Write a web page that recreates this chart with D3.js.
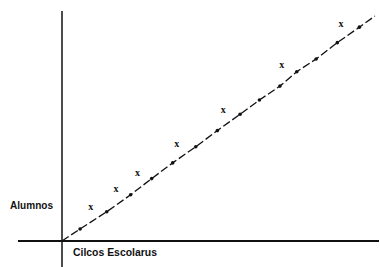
<!DOCTYPE html>
<html>
<head>
<meta charset="utf-8">
<script src="https://cdn.jsdelivr.net/npm/d3@7"></script>
<style>
    body { margin: 0; background: #fff; }
    svg { display: block; }
</style>
</head>
<body>
<div id="chart"></div>
<script>
// ciclos escolares (x) vs alumnos (y)
const lineX = [0, 0.86, 2.13, 3.27, 4.27, 5.27, 6.37, 7.40, 8.48, 9.40, 10.38, 11.18, 12.10, 13.11, 14.16, 14.90];
const lineY = [0, 0.55, 1.34, 2.12, 2.86, 3.58, 4.32, 5.06, 5.81, 6.46, 7.10, 7.76, 8.34, 9.09, 9.80, 10.31];

// observed points (the "x" marks)
const obsX = [1.37, 2.57, 3.59, 5.46, 7.68, 10.46, 13.29];
const obsY = [1.60, 2.41, 3.13, 4.45, 6.04, 8.07, 9.98];

const yLabel = 'Alumnos';
const xLabel = 'Cilcos Escolarus';

const _W = 380, _H = 267;
const _ORIGIN = { x: 62, y: 241 };

let svg = d3.select('#chart').append('svg')
    .attr('width', _W)
    .attr('height', _H);

let xScale = d3.scaleLinear()
    .domain([0, 15])
    .range([_ORIGIN.x, _ORIGIN.x + 15 * 21]);
let yScale = d3.scaleLinear()
    .domain([0, 11])
    .range([_ORIGIN.y, _ORIGIN.y - 11 * 21.82]);

// axes, drawn as plain lines through the origin (no ticks in the original)
let axes = svg.append('g').attr('class', 'axes');
axes.append('line')
    .attr('x1', 18).attr('x2', 379)
    .attr('y1', yScale(0)).attr('y2', yScale(0))
    .attr('stroke', '#111')
    .attr('stroke-width', 2);
axes.append('line')
    .attr('x1', xScale(0)).attr('x2', xScale(0))
    .attr('y1', 11).attr('y2', _H)
    .attr('stroke', '#111')
    .attr('stroke-width', 1.5);

let lineData = lineX.map((x, i) => ({ x: x, y: lineY[i] }));
let pointData = lineData.slice(1, lineData.length - 1);

let line = d3.line()
    .x(d => xScale(d.x))
    .y(d => yScale(d.y));

svg.append('path')
    .datum(lineData)
    .attr('d', line)
    .attr('fill', 'none')
    .attr('stroke', '#111')
    .attr('stroke-width', 1.3)
    .attr('stroke-dasharray', '8,3');

svg.append('g').selectAll('circle')
    .data(pointData)
    .enter().append('circle')
    .attr('cx', d => xScale(d.x))
    .attr('cy', d => yScale(d.y))
    .attr('r', 1.8)
    .attr('fill', '#111');

svg.append('g').selectAll('text')
    .data(obsX.map((x, i) => ({ x: x, y: obsY[i] })))
    .enter().append('text')
    .attr('x', d => xScale(d.x))
    .attr('y', d => yScale(d.y))
    .attr('dy', '0.35em')
    .attr('text-anchor', 'middle')
    .attr('font-family', 'Liberation Serif, serif')
    .attr('font-weight', 'bold')
    .attr('font-size', 10)
    .attr('fill', '#111')
    .text('x');

svg.append('text')
    .attr('x', 10)
    .attr('y', 209)
    .attr('font-family', 'Liberation Sans, Arial, sans-serif')
    .attr('font-weight', 'bold')
    .attr('font-size', 10)
    .attr('textLength', 43)
    .attr('lengthAdjust', 'spacingAndGlyphs')
    .attr('fill', '#111')
    .text(yLabel);

svg.append('text')
    .attr('x', 73)
    .attr('y', 256)
    .attr('font-family', 'Liberation Sans, Arial, sans-serif')
    .attr('font-weight', 'bold')
    .attr('font-size', 10.5)
    .attr('textLength', 84)
    .attr('lengthAdjust', 'spacingAndGlyphs')
    .attr('fill', '#111')
    .text(xLabel);
</script>
</body>
</html>
